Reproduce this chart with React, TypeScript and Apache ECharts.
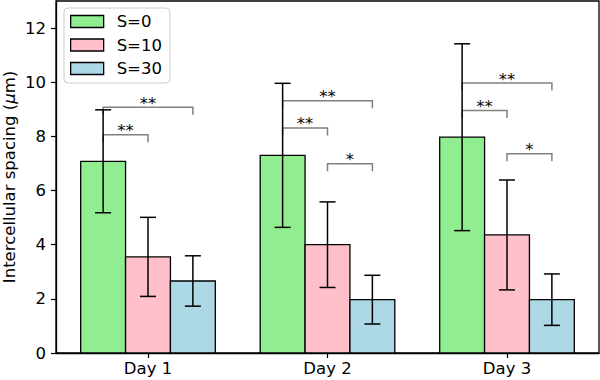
import React, { useEffect, useRef } from "react";
import * as echarts from "echarts";

const days = ["Day 1", "Day 2", "Day 3"];
const groups = ["S=0", "S=10", "S=30"];
const colors = ["#90EE90", "#FFC0CB", "#ADD8E6"];

const meanS0 = [7.08, 7.3, 7.97];
const errS0 = [1.9, 2.66, 3.45];
const meanS10 = [3.55, 4.0, 4.36];
const errS10 = [1.46, 1.58, 2.03];
const meanS30 = [2.66, 1.97, 1.97];
const errS30 = [0.93, 0.9, 0.95];

const means = [meanS0, meanS10, meanS30];
const errs = [errS0, errS10, errS30];

const bracketDay = [0, 0, 1, 1, 1, 2, 2, 2];
const bracketFrom = [0, 0, 0, 0, 1, 0, 0, 1];
const bracketTo = [1, 2, 1, 2, 2, 1, 2, 2];
const bracketHeight = [8.06, 9.08, 8.31, 9.32, 6.99, 8.96, 9.97, 7.36];
const bracketLabel = ["**", "**", "**", "**", "*", "**", "**", "*"];

const yTicks = [0, 2, 4, 6, 8, 10, 12];

const BAR_W = 0.25;
const LEG_DROP = 0.28;
const FS = 16.5;
const FONT = '"DejaVu Sans", sans-serif';
const offsetOf = (g: number) => (g - 1) * BAR_W;

export default function App() {
  const ref = useRef<HTMLDivElement>(null);
  useEffect(() => {
    document.body.style.margin = "0";
    const chart = echarts.init(ref.current!, undefined, { renderer: "svg" });

    const barSeries = groups.map((name, g) => ({
      type: "custom",
      name,
      itemStyle: { color: colors[g] },
      z: 2,
      data: days.map((_, d) => [d, means[g][d]]),
      renderItem: (params: any, api: any) => {
        const x = api.value(0) + offsetOf(g);
        const y = api.value(1);
        const p0 = api.coord([x - BAR_W / 2, y]);
        const p1 = api.coord([x + BAR_W / 2, 0]);
        return {
          type: "rect",
          shape: { x: p0[0], y: p0[1], width: p1[0] - p0[0], height: p1[1] - p0[1] },
          style: { fill: colors[g], stroke: "#000", lineWidth: 1.3 },
        };
      },
    }));

    const errSeries = groups.map((name, g) => ({
      type: "custom",
      name: name + " err",
      z: 4,
      silent: true,
      data: days.map((_, d) => [d, means[g][d], errs[g][d]]),
      renderItem: (params: any, api: any) => {
        const x = api.value(0) + offsetOf(g);
        const m = api.value(1);
        const e = api.value(2);
        const top = api.coord([x, m + e]);
        const bot = api.coord([x, m - e]);
        const cap = 8;
        const st = { stroke: "#000", lineWidth: 1.5 };
        return {
          type: "group",
          children: [
            { type: "line", shape: { x1: top[0], y1: top[1], x2: bot[0], y2: bot[1] }, style: st },
            { type: "line", shape: { x1: top[0] - cap, y1: top[1], x2: top[0] + cap, y2: top[1] }, style: st },
            { type: "line", shape: { x1: bot[0] - cap, y1: bot[1], x2: bot[0] + cap, y2: bot[1] }, style: st },
          ],
        };
      },
    }));

    const bracketSeries = {
      type: "custom",
      name: "sig",
      z: 3,
      silent: true,
      data: bracketDay.map((d, i) => [d, bracketFrom[i], bracketTo[i], bracketHeight[i], i]),
      renderItem: (params: any, api: any) => {
        const d = api.value(0);
        const f = api.value(1);
        const t = api.value(2);
        const h = api.value(3);
        const i = api.value(4);
        const a = api.coord([d + offsetOf(f), h]);
        const b = api.coord([d + offsetOf(t), h]);
        const a2 = api.coord([d + offsetOf(f), h - LEG_DROP]);
        const b2 = api.coord([d + offsetOf(t), h - LEG_DROP]);
        return {
          type: "group",
          children: [
            {
              type: "polyline",
              shape: { points: [[a2[0], a2[1]], [a[0], a[1]], [b[0], b[1]], [b2[0], b2[1]]] },
              style: { stroke: "#808080", lineWidth: 1.5, fill: null },
            },
            {
              type: "text",
              x: (a[0] + b[0]) / 2,
              y: a[1] - 4,
              style: {
                text: bracketLabel[i],
                fill: "#000",
                fontSize: FS,
                fontFamily: FONT,
                align: "center",
                verticalAlign: "middle",
              },
            },
          ],
        };
      },
    };

    chart.setOption({
      animation: false,
      textStyle: { fontFamily: FONT },
      grid: {
        left: 56,
        right: 1,
        top: 1,
        bottom: 27,
        show: true,
        borderColor: "#000",
        borderWidth: 1.3,
        containLabel: false,
        outerBoundsMode: "none",
      },
      legend: {
        orient: "vertical",
        left: 64,
        top: 8,
        padding: [5, 8, 6, 6],
        itemWidth: 33,
        itemHeight: 12,
        itemGap: 6.5,
        borderColor: "#cccccc",
        borderWidth: 1,
        borderRadius: 4,
        backgroundColor: "rgba(255,255,255,0.8)",
        textStyle: { fontSize: FS, fontFamily: FONT, color: "#000", padding: [0, 0, 0, 8] },
        data: groups.map((g, i) => ({
          name: g,
          icon: "rect",
          itemStyle: { color: colors[i], borderColor: "#000", borderWidth: 1.3 },
        })),
      },
      xAxis: {
        type: "value",
        min: -0.5125,
        max: 2.5125,
        splitLine: { show: false },
        axisLine: { show: true, onZero: false, lineStyle: { color: "#000", width: 1.3 } },
        axisTick: { show: true, length: 5, customValues: [0, 1, 2], lineStyle: { color: "#000", width: 1.2 } },
        axisLabel: {
          customValues: [0, 1, 2],
          formatter: (v: number) => days[Math.round(v)],
          fontSize: FS,
          fontFamily: FONT,
          color: "#000",
          margin: 7,
        },
      },
      yAxis: {
        type: "value",
        min: 0,
        max: 13,
        name: "Intercellular spacing ({it|μ}m)",
        nameLocation: "middle",
        nameGap: 38,
        nameMoveOverlap: false,
        nameTextStyle: {
          fontSize: FS,
          fontFamily: FONT,
          color: "#000",
          lineHeight: 17,
          rich: { it: { fontSize: FS, fontFamily: FONT, fontStyle: "italic", color: "#000", lineHeight: 17 } },
        },
        splitLine: { show: false },
        axisLine: { show: true, onZero: false, lineStyle: { color: "#000", width: 1.3 } },
        axisTick: { show: true, length: 5, customValues: yTicks, lineStyle: { color: "#000", width: 1.2 } },
        axisLabel: {
          customValues: yTicks,
          fontSize: FS,
          fontFamily: FONT,
          color: "#000",
          margin: 10,
        },
      },
      series: [...barSeries, bracketSeries, ...errSeries],
    });
    return () => chart.dispose();
  }, []);
  return <div ref={ref} style={{ width: 600, height: 380 }} />;
}
